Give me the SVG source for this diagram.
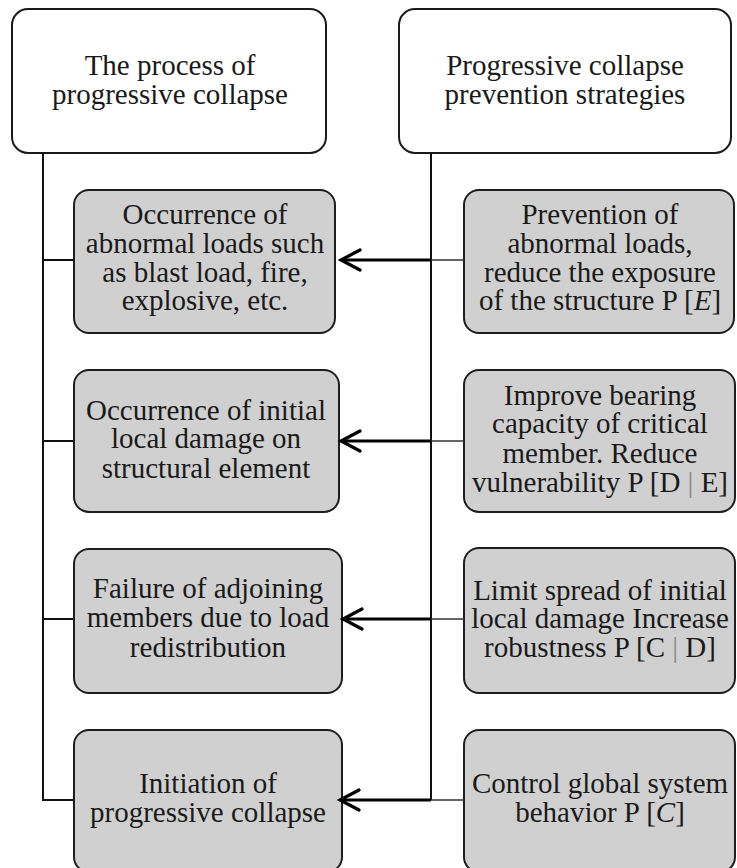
<svg xmlns="http://www.w3.org/2000/svg" width="737" height="868" viewBox="0 0 737 868">
<style>
.head{fill:#ffffff;stroke:#1a1a1a;stroke-width:2}
.box{fill:#d0d0d0;stroke:#1e1e1e;stroke-width:2}
text{font-family:"Liberation Serif","Times New Roman",serif;font-size:29px;fill:#1a1a1a;text-anchor:middle}
.it{font-style:italic}
.bar{fill:#888888}
.trunk{fill:none;stroke:#111111;stroke-width:2}
.tap{fill:none;stroke:#333333;stroke-width:1.6}
.arr{fill:none;stroke:#000000;stroke-width:3.2}
</style>
<defs>
<marker id="ah" markerUnits="userSpaceOnUse" markerWidth="26" markerHeight="26" refX="22" refY="12" orient="auto">
<path d="M3,2 L22,12 L3,22" fill="none" stroke="#000" stroke-width="3.2" stroke-linecap="round" stroke-linejoin="miter"/>
</marker>
</defs>
<g id="process-head">
<rect class="head" x="12" y="9" width="314" height="144" rx="16"/>
<text x="170" y="75">The process of</text>
<text x="170" y="104">progressive collapse</text>
</g>
<g id="strategies-head">
<rect class="head" x="399" y="9" width="332" height="144" rx="16"/>
<text x="565" y="75">Progressive collapse</text>
<text x="565" y="104">prevention strategies</text>
</g>
<g id="p1">
<rect class="box" x="74" y="190" width="261" height="143" rx="15"/>
<text x="205" y="224">Occurrence of</text>
<text x="205" y="253">abnormal loads such</text>
<text x="205" y="282">as blast load, fire,</text>
<text x="205" y="310">explosive, etc.</text>
</g>
<g id="p2">
<rect class="box" x="74" y="370" width="265" height="142" rx="15"/>
<text x="206" y="420">Occurrence of initial</text>
<text x="206" y="448">local damage on</text>
<text x="206" y="478">structural element</text>
</g>
<g id="p3">
<rect class="box" x="74" y="549" width="268" height="144" rx="15"/>
<text x="208" y="598">Failure of adjoining</text>
<text x="208" y="627">members due to load</text>
<text x="208" y="657">redistribution</text>
</g>
<g id="p4">
<rect class="box" x="74" y="730" width="268" height="142" rx="15"/>
<text x="208" y="793">Initiation of</text>
<text x="208" y="822">progressive collapse</text>
</g>
<g id="s1">
<rect class="box" x="464" y="190" width="270" height="143" rx="15"/>
<text x="600" y="224">Prevention of</text>
<text x="600" y="253">abnormal loads,</text>
<text x="600" y="282">reduce the exposure</text>
<text x="600" y="310">of the structure P [<tspan class="it">E</tspan>]</text>
</g>
<g id="s2">
<rect class="box" x="464" y="370" width="271" height="142" rx="15"/>
<text x="600" y="405">Improve bearing</text>
<text x="600" y="433">capacity of critical</text>
<text x="600" y="463">member. Reduce</text>
<text x="600" y="492">vulnerability P [D <tspan class="bar">|</tspan> E]</text>
</g>
<g id="s3">
<rect class="box" x="464" y="548" width="271" height="145" rx="15"/>
<text x="600" y="600">Limit spread of initial</text>
<text x="600" y="628">local damage Increase</text>
<text x="600" y="657">robustness P [C <tspan class="bar">|</tspan> D]</text>
</g>
<g id="s4">
<rect class="box" x="464" y="730" width="271" height="142" rx="15"/>
<text x="600" y="793">Control global system</text>
<text x="600" y="822">behavior P [<tspan class="it">C</tspan>]</text>
</g>
<g id="connectors">
<path class="trunk" d="M43,153 V800 H74 M43,260 H74 M43,441 H74 M43,619 H74"/>
<path class="trunk" d="M431,153 V800"/>
<path class="tap" d="M431,260 H464 M431,441 H464 M431,619 H464 M431,800 H464"/>
<path class="arr" d="M431,260 H341" marker-end="url(#ah)"/>
<path class="arr" d="M431,441 H341" marker-end="url(#ah)"/>
<path class="arr" d="M431,619 H343" marker-end="url(#ah)"/>
<path class="arr" d="M431,800 H340" marker-end="url(#ah)"/>
</g>
</svg>
